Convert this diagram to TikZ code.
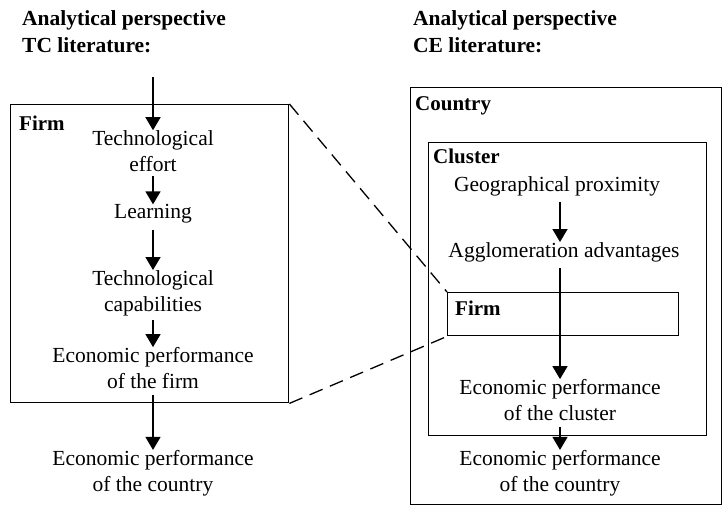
\documentclass[tikz,border=0pt]{standalone}
\usepackage{fontspec}
\setmainfont{Liberation Serif}
\usetikzlibrary{arrows.meta}
\begin{document}
\begin{tikzpicture}[x=1pt,y=-1pt,
  txt/.style={align=center,inner sep=0pt,font=\fontsize{21.5}{26}\selectfont},
  hd/.style={anchor=base west,inner sep=0pt,font=\fontsize{21}{26}\selectfont\bfseries},
  ttl/.style={anchor=north west,inner sep=0pt,align=left,font=\fontsize{21.5}{27}\selectfont\bfseries},
  frame/.style={draw,line width=1.4pt,anchor=north west,inner sep=0pt},
  flow/.style={line width=1.4pt,-{Triangle[width=15pt,length=13pt]}},
  link/.style={line width=1.3pt,dash pattern=on 14pt off 8pt}]
\useasboundingbox (0,0) rectangle (723,506);

% column headings
\node[ttl] (ttlTC) at (22,10) {Analytical perspective\\TC literature:};
\node[ttl] (ttlCE) at (413,10) {Analytical perspective\\CE literature:};

% left: firm-level chain
\node[frame,minimum width=278pt,minimum height=298pt] (firmL) at (10,104) {};
\node[hd] (firmLlbl) at (19,130) {Firm};
\coordinate (entry) at (153,77);
\node[txt] (effort) at (153,151) {Technological\\effort};
\node[txt] (learn) at (153,214) {Learning};
\node[txt] (capab) at (153,293) {Technological\\capabilities};
\node[txt] (perfFirm) at (153,368) {Economic performance\\of the firm};
\node[txt] (perfCtyL) at (153,473) {Economic performance\\of the country};

\draw[flow] (entry) -- (effort.north);
\draw[flow] (effort.south) ++(0,4) -- (learn.north);
\draw[flow] (learn.south) ++(0,6) -- (capab.north);
\draw[flow] (capab.south) ++(0,4) -- (perfFirm.north);
\draw[flow] (perfFirm.south) ++(0,6) -- (perfCtyL.north);

% right: country / cluster / firm nesting
\node[frame,minimum width=311pt,minimum height=417pt] (country) at (410,87) {};
\node[hd] (countrylbl) at (415,110) {Country};
\node[frame,minimum width=278pt,minimum height=293pt] (cluster) at (428,142) {};
\node[hd] (clusterlbl) at (433,163) {Cluster};
\node[txt] (geo) at (557,186) {Geographical proximity};
\node[txt] (agglo) at (564,252) {Agglomeration advantages};
\node[frame,minimum width=231pt,minimum height=43pt] (firmR) at (447,292) {};
\node[hd] (firmRlbl) at (455,315) {Firm};
\node[txt] (perfCl) at (560,400) {Economic performance\\of the cluster};
\node[txt] (perfCtyR) at (560,473) {Economic performance\\of the country};

\draw[flow] (geo.south -| 560,0) ++(0,6) -- (agglo.north -| 560,0);
\draw[flow] (agglo.south -| 560,0) ++(0,6) -- (perfCl.north -| 560,0);
\draw[flow] (perfCl.south -| 560,0) ++(0,6) -- (perfCtyR.north -| 560,0);

% zoom lines from the firm box to the firm inside the cluster
\draw[link] (firmL.north east) -- (firmR.north west);
\draw[link] (firmL.south east) -- (firmR.south west);
\end{tikzpicture}
\end{document}
